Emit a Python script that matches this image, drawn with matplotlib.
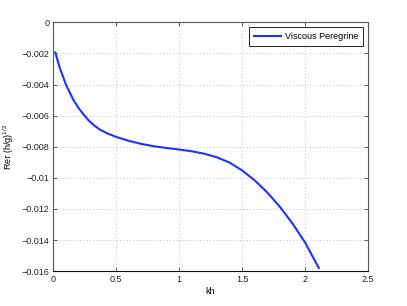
import numpy as np
import matplotlib
matplotlib.use('Agg')
import matplotlib.pyplot as plt

################################################################################
# Data
kh = [0.016, 0.05, 0.1, 0.16, 0.2, 0.24, 0.28, 0.32, 0.37, 0.43, 0.5,
      0.6, 0.7, 0.8, 0.9, 1.0, 1.1, 1.2, 1.3, 1.4, 1.5,
      1.6, 1.7, 1.8, 1.9, 2.0, 2.11]
re_tau = [-0.00194, -0.0029, -0.0040, -0.0050, -0.0055, -0.00593, -0.0063,
          -0.0066, -0.0069, -0.00714, -0.00737,
          -0.00762, -0.00782, -0.00797, -0.00808, -0.00818, -0.00829,
          -0.00845, -0.00868, -0.00902, -0.00952,
          -0.01016, -0.01094, -0.01186, -0.01293, -0.01415, -0.0158]

xticks = [0, 0.5, 1, 1.5, 2, 2.5]
xticklabels = ['0', '0.5', '1', '1.5', '2', '2.5']
yticks = [-0.016, -0.014, -0.012, -0.01, -0.008, -0.006, -0.004, -0.002, 0]
yticklabels = ['\u22120.016', '\u22120.014', '\u22120.012', '\u22120.01',
               '\u22120.008', '\u22120.006', '\u22120.004', '\u22120.002', '0']

################################################################################
# Plot
plt.rcParams['font.family'] = ['Liberation Sans', 'DejaVu Sans']
plt.rcParams['mathtext.fontset'] = 'custom'
plt.rcParams['mathtext.rm'] = 'Liberation Sans'
plt.rcParams['mathtext.it'] = 'Liberation Sans:italic'

fs = 6.5

fig = plt.figure(figsize=(4.07, 3.06), dpi=100)
ax = fig.add_axes([0.131, 0.114, 0.773, 0.813])

ax.plot(kh, re_tau, color='#1a33ff', lw=1.5, label='Viscous Peregrine',
        solid_joinstyle='round')

ax.set_xlim(0, 2.5)
ax.set_ylim(-0.016, 0)
ax.set_xticks(xticks)
ax.set_xticklabels(xticklabels)
ax.set_yticks(yticks)
ax.set_yticklabels(yticklabels)
ax.tick_params(direction='in', top=True, right=True, length=3, width=0.5,
               labelsize=fs, colors='#222222', pad=3)
ax.grid(True, linestyle=(0, (1, 3)), color='#b0b0b0', linewidth=0.6)
for s in ax.spines.values():
    s.set_color('#555555')
    s.set_linewidth(0.8)
ax.spines['bottom'].set_color('#111111')

ax.set_xlabel('kh', fontsize=fs, labelpad=2)
ax.set_ylabel(r'Re$\tau$ (h/g)$^{1/2}$', fontsize=fs)
ax.yaxis.set_label_coords(-0.118, 0.5)

leg = ax.legend(loc='upper right', fontsize=fs, fancybox=False,
                framealpha=1, edgecolor='black', handlelength=3.0,
                handletextpad=0.4, borderpad=0.55, borderaxespad=0.5)
leg.get_frame().set_linewidth(0.6)

plt.savefig('out.png', dpi=100)
